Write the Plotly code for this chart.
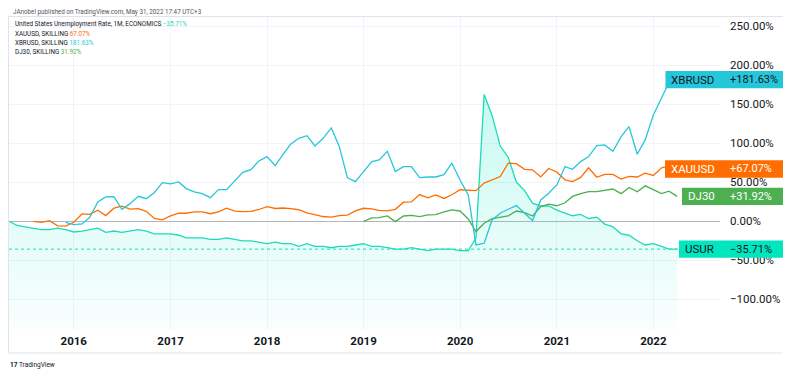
import plotly.graph_objects as go
import pandas as pd

# ---------------- data (percent change) ----------------
months = pd.date_range("2015-05-01", "2022-04-01", freq="MS")

usur_pct = [
    0.0, -5.4, -7.1, -8.9, -10.7, -10.7, -8.9, -10.7,
    -13.7, -12.5, -10.7, -8.9, -14.3, -12.5, -14.3, -12.5, -10.7, -12.5, -16.1, -16.1,
    -16.1, -17.9, -21.4, -21.4, -21.4, -23.2, -23.2, -21.4, -23.2, -25.0, -25.0, -26.8,
    -28.6, -26.8, -28.6, -28.6, -32.1, -28.6, -32.1, -32.1, -33.9, -32.1, -32.1, -30.4,
    -28.6, -32.1, -32.1, -33.9, -35.7, -35.7, -33.9, -35.7, -37.5, -35.7, -35.7, -35.7,
    -37.5, -37.5, -21.4, 162.5, 135.7, 96.4, 82.1, 50.0, 39.3, 23.2, 19.6, 19.6,
    14.3, 10.7, 7.1, 8.9, 3.6, 5.4, -3.6, -7.1, -16.1, -17.9, -25.0, -30.4,
    -28.6, -32.1, -35.71, -35.71,
]

xauusd_pct = [None] * 3 + [
    0.0, -1.5, 0.9, -5.9, -6.3,
    -1.2, 9.4, 8.9, 14.2, 7.3, 16.8, 19.3, 15.6, 16.3, 12.8, 3.6, 1.8,
    7.0, 10.3, 10.3, 12.0, 12.1, 9.7, 12.1, 16.8, 13.1, 12.3, 12.6, 15.1,
    18.8, 16.4, 17.0, 16.2, 14.8, 10.7, 8.1, 6.1, 5.3, 7.3, 8.0, 13.3,
    16.7, 16.0, 14.1, 13.4, 15.3, 24.5, 24.8, 34.3, 30.0, 33.7, 29.3, 34.0,
    40.4, 40.0, 39.3, 49.0, 52.8, 57.3, 74.5, 73.9, 66.6, 66.0, 56.9, 67.7,
    63.2, 53.2, 50.9, 56.3, 68.5, 56.4, 60.2, 60.2, 54.0, 57.5, 56.8, 61.6,
    58.7, 68.6, 71.1, 67.07,
]

xbrusd_pct = [None] * 7 + [
    -1.5,
    -4.3, -3.4, 4.7, 24.8, 31.2, 31.6, 15.4, 22.6, 32.0, 29.0, 37.0, 49.6,
    47.9, 50.4, 41.9, 37.6, 35.5, 30.3, 40.6, 40.6, 52.1, 62.8, 66.2, 77.4,
    82.9, 71.4, 85.0, 99.1, 106.4, 109.8, 96.6, 106.4, 119.7, 96.0, 55.6, 50.9,
    63.7, 76.5, 78.6, 89.7, 63.7, 70.1, 70.1, 56.0, 56.8, 56.8, 59.8, 74.4,
    53.0, 33.8, -30.3, -28.2, 1.7, 10.3, 15.4, 20.1, 10.3, 0.9, 27.4, 35.9,
    46.6, 70.1, 66.7, 76.5, 82.9, 97.0, 97.9, 89.7, 108.5, 121.4, 85.9, 104.3,
    136.3, 157.7, 178.0, 181.63,
]

dj30_pct = [None] * 44 + [
    0.0, 4.3, 4.7, 6.8, -0.4, 6.8, 7.7, 6.0, 8.1, 8.5, 12.0, 14.5,
    13.2, 3.0, -13.2, -2.6, 3.4, 4.7, 6.8, 13.2, 11.1, 6.8, 18.8, 22.0,
    19.9, 23.7, 31.9, 35.5, 38.1, 38.0, 39.7, 41.4, 35.4, 43.3, 37.9, 45.4,
    40.5, 35.6, 38.7, 31.92,
]

legend_names = [
    "United States Unemployment Rate, 1M, ECONOMICS",
    "XAUUSD, SKILLING",
    "XBRUSD, SKILLING",
    "DJ30, SKILLING",
]
header_text = "JAnobel published on TradingView.com, May 31, 2022 17:47 UTC+3"

# ---------------- layout geometry (page pixels; the page body has an 8px margin) ----------------
OFF = 8
W, H = 792 - 2 * OFF, 378 - 2 * OFF
PL, PR, PT, PB = 9, 720, 17, 329          # plot area in page pixels
Y_MIN, Y_MAX = -138.1, 261.9

def px_x(px):
    return (px - PL) / (PR - PL)

def px_y(py):
    return (PB - py) / (PB - PT)

C_USUR = "#1cdcb8"
C_USUR_LBL = "#00e6bf"
C_XAU = "#ff6d00"
C_XBR = "#26c6da"
C_DJ = "#4caf50"
TXT = "#131722"
FONT = "Roboto"

fig = go.Figure()

# baseline for the area fill (bottom of pane)
fig.add_trace(go.Scatter(x=months, y=[Y_MIN - 2] * len(months), mode="lines",
                         line=dict(width=0, color="rgba(0,0,0,0)"),
                         hoverinfo="skip", showlegend=False))
fig.add_trace(go.Scatter(
    x=months, y=usur_pct, mode="lines", line=dict(color=C_USUR, width=1.3),
    fill="tonexty",
    fillgradient=dict(type="vertical", start=Y_MIN - 2, stop=165,
                      colorscale=[[0, "rgba(0,229,190,0.02)"], [1, "rgba(0,229,190,0.22)"]]),
    showlegend=False, hoverinfo="skip"))
fig.add_trace(go.Scatter(x=months, y=dj30_pct, mode="lines", line=dict(color=C_DJ, width=1.3),
                         showlegend=False))
fig.add_trace(go.Scatter(x=months, y=xauusd_pct, mode="lines", line=dict(color=C_XAU, width=1.3),
                         showlegend=False))
fig.add_trace(go.Scatter(x=months, y=xbrusd_pct, mode="lines", line=dict(color=C_XBR, width=1.3),
                         showlegend=False))

shapes = []
annotations = []

# dotted price line for the main series
shapes.append(dict(type="line", xref="paper", yref="y", x0=0, x1=1,
                   y0=usur_pct[-1], y1=usur_pct[-1],
                   line=dict(color=C_USUR, width=1, dash="dot"), layer="above"))

# pane borders
border = "#e0e3eb"
shapes.append(dict(type="line", xref="paper", yref="paper", x0=px_x(8), x1=px_x(783),
                   y0=px_y(16.5), y1=px_y(16.5), line=dict(color=border, width=1)))
shapes.append(dict(type="line", xref="paper", yref="paper", x0=px_x(8), x1=px_x(783),
                   y0=px_y(353), y1=px_y(353), line=dict(color=border, width=1)))
shapes.append(dict(type="line", xref="paper", yref="paper", x0=px_x(8.5), x1=px_x(8.5),
                   y0=px_y(16.5), y1=px_y(353), line=dict(color=border, width=1)))

def fmt_pct(v, sign=False):
    s = f"{v:+.2f}%" if sign else f"{v:.2f}%"
    return s.replace("-", "\u2212")

# last-value labels on the right
labels = [
    ("XBRUSD", xbrusd_pct[-1], C_XBR, TXT, 665.5),
    ("XAUUSD", xauusd_pct[-1], C_XAU, "#ffffff", 665.0),
    ("DJ30", dj30_pct[-1], C_DJ, "#ffffff", 682.0),
    ("USUR", usur_pct[-1], C_USUR_LBL, TXT, 679.0),
]
half = 8.7 / 0.78
for name, v, bg, fg, left in labels:
    shapes.append(dict(type="rect", xref="paper", yref="y", x0=px_x(left), x1=px_x(783),
                       y0=v - half, y1=v + half, fillcolor=bg, line=dict(width=0), layer="above"))
    annotations.append(dict(xref="paper", yref="y", x=px_x((left + PR) / 2), y=v,
                            text=name, showarrow=False, xanchor="center", yanchor="middle",
                            font=dict(family=FONT, size=11.5, color=fg)))
    annotations.append(dict(xref="paper", yref="y", x=px_x(728), y=v,
                            text=fmt_pct(v, sign=True), showarrow=False,
                            xanchor="left", yanchor="middle",
                            font=dict(family=FONT, size=11, color=fg)))

# header
annotations.append(dict(xref="paper", yref="paper", x=px_x(10.5), y=px_y(12.2),
                        text=header_text, showarrow=False, xanchor="left", yanchor="middle",
                        font=dict(family=FONT, size=6.3, color="#50535e")))

# legend lines
leg_vals = [usur_pct[-1], xauusd_pct[-1], xbrusd_pct[-1], dj30_pct[-1]]
leg_cols = [C_USUR, C_XAU, C_XBR, C_DJ]
leg_y = [24.3, 33.5, 42.6, 51.7]
for nm, v, c, yy in zip(legend_names, leg_vals, leg_cols, leg_y):
    annotations.append(dict(xref="paper", yref="paper", x=px_x(12.5), y=px_y(yy),
                            text=f"{nm} <span style='color:{c}'>{fmt_pct(v)}</span>",
                            showarrow=False, xanchor="left", yanchor="middle",
                            font=dict(family=FONT, size=6.3, color=TXT)))

# footer logo text
annotations.append(dict(xref="paper", yref="paper", x=px_x(8), y=px_y(364.5),
                        text="<b>17</b> TradingView", showarrow=False,
                        xanchor="left", yanchor="middle",
                        font=dict(family=FONT, size=6.5, color=TXT)))

fig.update_layout(
    width=W, height=H,
    margin=dict(l=PL - OFF, r=(792 - OFF) - PR, t=PT - OFF, b=(378 - OFF) - PB, pad=0),
    paper_bgcolor="white", plot_bgcolor="white",
    showlegend=False,
    shapes=shapes, annotations=annotations,
    font=dict(family=FONT, color=TXT),
    xaxis=dict(type="date", range=["2015-05-01", "2022-09-10"],
               tick0="2016-01-01", dtick="M12", tickformat="%Y",
               showgrid=True, gridcolor="#f0f3fa", gridwidth=1,
               zeroline=False, showline=False, ticks="",
               ticklabelstandoff=3,
               tickfont=dict(family=FONT, size=11.5, color=TXT, weight="bold")),
    yaxis=dict(side="right", range=[Y_MIN, Y_MAX], tick0=0, dtick=50,
               tickformat=".2f", ticksuffix="%",
               showgrid=True, gridcolor="#f0f3fa", gridwidth=1,
               zeroline=True, zerolinecolor="#b2b5be", zerolinewidth=1,
               showline=False, ticks="", ticklabelstandoff=9,
               tickfont=dict(family=FONT, size=11.5, color=TXT)),
)

fig.write_html("out.html")
